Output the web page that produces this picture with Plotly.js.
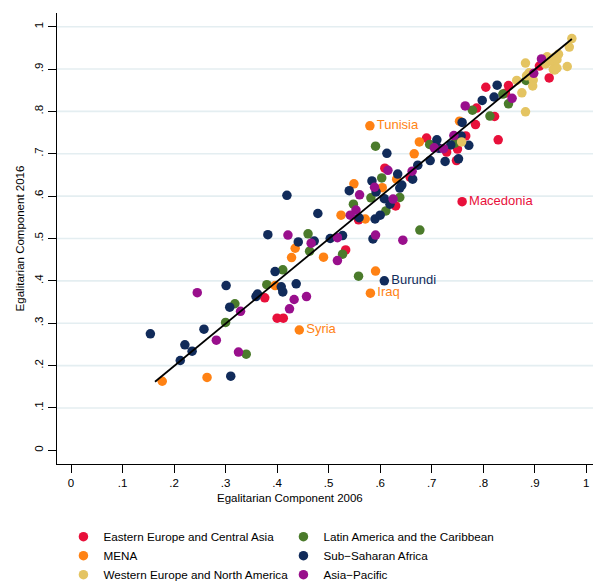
<!DOCTYPE html>
<html>
<head>
<meta charset="utf-8">
<script src="https://cdn.plot.ly/plotly-3.0.1.min.js"></script>
<style>html,body{margin:0;padding:0;background:#fff;}#chart{width:593px;height:583px;}</style>
</head>
<body>
<div id="chart"></div>
<script>
// ---- Data ----
const groupNames = ["Eastern Europe and Central Asia", "Latin America and the Caribbean", "MENA", "Sub\u2212Saharan Africa", "Western Europe and North America", "Asia\u2212Pacific"];

// Eastern Europe and Central Asia (first point labelled)
const eeNames = ["Macedonia"];
const eeX = [0.759, 0.376,0.400,0.412,0.533,0.558,0.609,0.630,0.658,0.690,0.729,0.748,0.750,0.748,0.766,0.785,0.787,0.805,0.822,0.829,0.843,0.849,0.909,0.928];
const eeY = [0.587, 0.360,0.312,0.312,0.473,0.544,0.666,0.577,0.645,0.737,0.704,0.740,0.711,0.684,0.742,0.769,0.808,0.857,0.788,0.733,0.843,0.861,0.907,0.879];

// MENA (first three labelled)
const menaNames = ["Tunisia", "Iraq", "Syria"];
const menaX = [0.580,0.581,0.443, 0.177,0.264,0.396,0.428,0.435,0.490,0.524,0.571,0.549,0.604,0.632,0.591,0.666,0.676,0.754];
const menaY = [0.766,0.371,0.284, 0.163,0.172,0.389,0.455,0.477,0.456,0.555,0.546,0.629,0.620,0.640,0.423,0.700,0.728,0.777];

// Western Europe and North America
const weNames = [];
const weX = [0.758,0.865,0.875,0.882,0.882,0.884,0.889,0.897,0.896,0.921,0.924,0.936,0.939,0.943,0.946,0.939,0.936,0.943,0.963,0.967,0.972];
const weY = [0.728,0.873,0.844,0.799,0.914,0.884,0.891,0.874,0.860,0.912,0.929,0.917,0.928,0.922,0.935,0.898,0.899,0.902,0.906,0.952,0.972];

// Latin America and the Caribbean
const laNames = [];
const laX = [0.300,0.318,0.340,0.380,0.411,0.460,0.463,0.527,0.548,0.558,0.591,0.582,0.603,0.611,0.638,0.677,0.696,0.745,0.779,0.813,0.838,0.849,0.883];
const laY = [0.302,0.346,0.227,0.391,0.426,0.511,0.470,0.463,0.581,0.411,0.718,0.596,0.643,0.565,0.597,0.520,0.722,0.725,0.803,0.789,0.841,0.818,0.873];

// Sub-Saharan Africa (first point labelled)
const ssaNames = ["Burundi"];
const ssaX = [0.608, 0.154,0.212,0.221,0.235,0.258,0.301,0.308,0.310,0.359,0.362,0.382,0.396,0.408,0.411,0.419,0.437,0.441,0.472,0.479,0.503,0.527,0.540,0.559,0.584,0.586,0.590,0.592,0.600,0.608,0.613,0.619,0.634,0.638,0.642,0.663,0.673,0.697,0.710,0.714,0.726,0.737,0.752,0.757,0.759,0.772,0.798,0.821,0.827];
const ssaY = [0.400, 0.275,0.212,0.249,0.234,0.286,0.389,0.338,0.175,0.363,0.369,0.509,0.422,0.386,0.374,0.602,0.393,0.492,0.494,0.559,0.500,0.507,0.613,0.549,0.636,0.499,0.546,0.610,0.555,0.594,0.701,0.581,0.652,0.619,0.626,0.640,0.673,0.684,0.733,0.713,0.682,0.721,0.688,0.742,0.774,0.720,0.826,0.834,0.862];

// Asia-Pacific
const apNames = [];
const apX = [0.245,0.282,0.325,0.329,0.421,0.424,0.433,0.457,0.466,0.517,0.517,0.542,0.553,0.560,0.589,0.591,0.615,0.625,0.644,0.662,0.705,0.723,0.743,0.765,0.856,0.898,0.913];
const apY = [0.372,0.260,0.232,0.328,0.508,0.334,0.356,0.363,0.489,0.502,0.448,0.555,0.567,0.603,0.621,0.508,0.661,0.593,0.496,0.659,0.714,0.712,0.743,0.813,0.831,0.890,0.924];

// Fitted line endpoints
const fitX = [0.163, 0.972];
const fitY = [0.162, 0.971];

// Axis ticks
const tickVals = [0,0.1,0.2,0.3,0.4,0.5,0.6,0.7,0.8,0.9,1];
const tickText = ["0",".1",".2",".3",".4",".5",".6",".7",".8",".9","1"];
const gridVals = [0.1,0.2,0.3,0.4,0.5,0.6,0.7,0.8,0.9,1];
const xTitle = "Egalitarian Component 2006";
const yTitle = "Egalitarian Component 2016";

// ---- Styling ----
const colors = {
  ee: "#e8103b", la: "#4b7b2b", mena: "#ff8214", ssa: "#112b5a", we: "#e4c462", ap: "#990f8c"
};
const FONT = "Liberation Sans, Arial, Helvetica, sans-serif";

function groupTrace(name, xs, ys, labels, color) {
  return {
    type: "scatter",
    mode: "markers+text",
    name: name,
    x: xs, y: ys,
    text: xs.map((_, i) => labels[i] || ""),
    textposition: "middle right",
    textfont: {family: FONT, size: 13, color: color},
    marker: {color: color, size: 9.5, line: {width: 0}},
    cliponaxis: false,
    hoverinfo: "skip"
  };
}

const data = [
  groupTrace(groupNames[0], eeX, eeY, eeNames, colors.ee),
  groupTrace(groupNames[1], laX, laY, laNames, colors.la),
  groupTrace(groupNames[2], menaX, menaY, menaNames, colors.mena),
  groupTrace(groupNames[3], ssaX, ssaY, ssaNames, colors.ssa),
  groupTrace(groupNames[4], weX, weY, weNames, colors.we),
  groupTrace(groupNames[5], apX, apY, apNames, colors.ap),
  {
    type: "scatter", mode: "lines", x: fitX, y: fitY,
    line: {color: "#000", width: 1.8}, showlegend: false, hoverinfo: "skip"
  }
];

const shapes = gridVals.map(v => ({
  type: "line", xref: "paper", x0: 0, x1: 1, yref: "y", y0: v, y1: v,
  line: {color: "#e4eef1", width: 1.6}, layer: "below"
}));

const layout = {
  width: 593, height: 583,
  margin: {l: 57, r: 0, t: 13, b: 119, autoexpand: false},
  paper_bgcolor: "#fff", plot_bgcolor: "#fff",
  font: {family: FONT, size: 11.5, color: "#000"},
  showlegend: true,
  shapes: shapes,
  annotations: [{
    text: xTitle, xref: "paper", yref: "paper", x: 0.4347, y: -0.0754,
    xanchor: "center", yanchor: "middle", showarrow: false,
    font: {family: FONT, size: 11.5, color: "#000"}
  }],
  xaxis: {
    range: [-0.0272, 1.013], tickvals: tickVals, ticktext: tickText,
    showgrid: false, zeroline: false, showline: true, linecolor: "#000", linewidth: 1,
    ticks: "outside", ticklen: 8, tickcolor: "#000", tickwidth: 1,
    tickfont: {family: FONT, size: 11.5, color: "#000"}
  },
  yaxis: {
    range: [-0.0323, 1.0323], tickvals: tickVals, ticktext: tickText,
    showgrid: false, zeroline: false, showline: true, linecolor: "#000", linewidth: 1,
    ticks: "outside", ticklen: 8, tickcolor: "#000", tickwidth: 1, tickangle: -90,
    tickfont: {family: FONT, size: 11.5, color: "#000"},
    title: {text: yTitle, font: {family: FONT, size: 11.5, color: "#000"}}
  },
  legend: {
    orientation: "h", x: 0.012, xanchor: "left", y: -0.129, yanchor: "top",
    font: {family: FONT, size: 11.7, color: "#000"},
    itemwidth: 30, entrywidth: 175, bgcolor: "rgba(0,0,0,0)", traceorder: "normal"
  },
  hovermode: false
};

Plotly.newPlot("chart", data, layout, {displayModeBar: false, staticPlot: true});
</script>
</body>
</html>
